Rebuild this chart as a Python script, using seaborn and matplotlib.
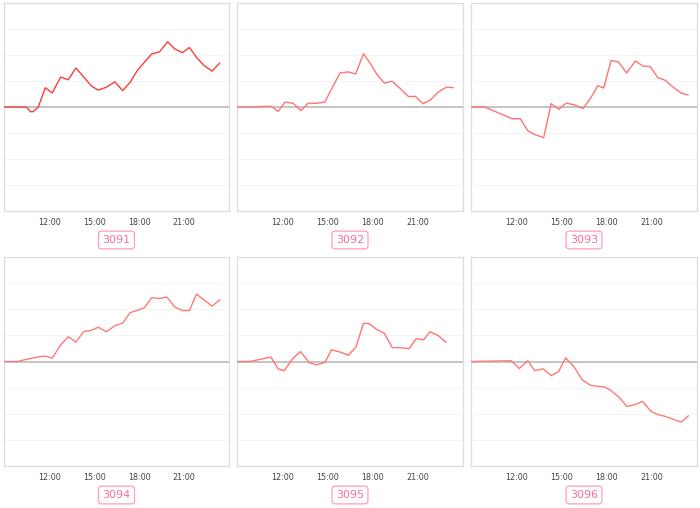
import numpy as np
import pandas as pd
import matplotlib
matplotlib.use("Agg")
import matplotlib.pyplot as plt
import matplotlib.dates as mdates
import seaborn as sns

sns.set_theme(style="white")
plt.rcParams['font.family'] = ['DejaVu Sans']

# Series per station: times (HH:MM) and values
ids = ["3091", "3092", "3093", "3094", "3095", "3096"]

times_3091 = ["09:00", "10:30", "10:45", "10:56", "11:17", "11:45", "12:13", "12:46", "13:17",
              "13:47", "14:19", "14:48", "15:16", "15:49", "16:23", "16:54", "17:24", "17:53",
              "18:21", "18:50", "19:21", "19:54", "20:23", "20:53", "21:21", "21:49", "22:19",
              "22:51", "23:22"]
values_3091 = [0, 0, -0.18, -0.18, 0, 0.74, 0.54, 1.15, 1.05, 1.5, 1.15, 0.82, 0.65, 0.76, 0.97,
               0.63, 0.95, 1.41, 1.72, 2.04, 2.12, 2.51, 2.23, 2.09, 2.29, 1.91, 1.6, 1.38, 1.69]

times_3092 = ["09:00", "09:51", "11:15", "11:44", "12:11", "12:44", "13:14", "13:44", "14:17",
              "14:49", "15:50", "16:23", "16:52", "17:23", "17:49", "18:16", "18:46", "19:17",
              "19:49", "20:22", "20:50", "21:20", "21:48", "22:21", "22:55", "23:21"]
values_3092 = [0, 0, 0.03, -0.17, 0.19, 0.14, -0.14, 0.15, 0.14, 0.19, 1.31, 1.35, 1.27, 2.05,
               1.69, 1.26, 0.92, 0.99, 0.71, 0.40, 0.41, 0.13, 0.26, 0.58, 0.77, 0.74]

times_3093 = ["09:00", "09:54", "11:44", "12:16", "12:46", "13:13", "13:49", "14:19", "14:49",
              "15:19", "15:52", "16:25", "16:54", "17:24", "17:48", "18:17", "18:47", "19:19",
              "19:54", "20:23", "20:53", "21:23", "21:52", "22:22", "22:55", "23:24"]
values_3093 = [0, 0, -0.45, -0.45, -0.91, -1.06, -1.18, 0.13, -0.09, 0.15, 0.08, -0.06, 0.31,
               0.82, 0.73, 1.79, 1.73, 1.31, 1.77, 1.58, 1.55, 1.13, 1.03, 0.78, 0.54, 0.46]

times_3094 = ["09:00", "09:54", "10:28", "11:15", "11:44", "12:13", "12:46", "13:17", "13:47",
              "14:19", "14:48", "15:17", "15:49", "16:23", "16:54", "17:24", "17:53", "18:21",
              "18:50", "19:21", "19:50", "20:23", "20:53", "21:21", "21:49", "22:19", "22:51",
              "23:22"]
values_3094 = [0, 0, 0.08, 0.17, 0.21, 0.13, 0.63, 0.95, 0.74, 1.15, 1.19, 1.31, 1.14, 1.37,
               1.47, 1.87, 1.96, 2.06, 2.44, 2.41, 2.47, 2.08, 1.95, 1.95, 2.58, 2.36, 2.12, 2.36]

times_3095 = ["09:00", "09:51", "11:15", "11:44", "12:08", "12:44", "13:13", "13:47", "14:17",
              "14:50", "15:16", "15:50", "16:23", "16:53", "17:23", "17:46", "18:16", "18:46",
              "19:18", "19:49", "20:25", "20:52", "21:22", "21:48", "22:21", "22:52"]
values_3095 = [0, 0, 0.17, -0.29, -0.35, 0.14, 0.38, -0.04, -0.13, -0.03, 0.45, 0.36, 0.24,
               0.55, 1.46, 1.45, 1.22, 1.08, 0.53, 0.53, 0.49, 0.87, 0.83, 1.14, 0.99, 0.73]

times_3096 = ["09:00", "11:40", "12:12", "12:46", "13:13", "13:47", "14:19", "14:49", "15:16",
              "15:49", "16:23", "16:56", "17:23", "17:49", "18:16", "18:49", "19:20", "19:53",
              "20:23", "20:56", "21:23", "21:53", "22:23", "22:56", "23:25"]
values_3096 = [0, 0.03, -0.27, 0.03, -0.35, -0.28, -0.54, -0.38, 0.14, -0.19, -0.71, -0.91,
               -0.95, -0.97, -1.10, -1.37, -1.72, -1.65, -1.53, -1.91, -2.03, -2.10, -2.21,
               -2.32, -2.08]

series_times = [times_3091, times_3092, times_3093, times_3094, times_3095, times_3096]
series_values = [values_3091, values_3092, values_3093, values_3094, values_3095, values_3096]
line_colors = ["#ff3c3c", "#ff7474", "#ff7474", "#ff7a7a", "#ff7474", "#ff7a7a"]

day = "2024-01-01 "
frames = []
for sid, tt, vv in zip(ids, series_times, series_values):
    frames.append(pd.DataFrame({"id": sid, "time": pd.to_datetime([day + t for t in tt]), "value": vv}))
df = pd.concat(frames, ignore_index=True)

fig = plt.figure(figsize=(7.0, 5.08), dpi=100)
W, H = 700.0, 508.0
col_x = [(4, 229), (237, 463), (471, 697)]
row_y = [(3, 211), (257, 466)]
label_y = [240, 495]

x0 = pd.Timestamp(day + "09:00")
x1 = pd.Timestamp(day + "23:59")

for i, sid in enumerate(ids):
    r, c = divmod(i, 3)
    (xl, xr), (yt, yb) = col_x[c], row_y[r]
    ax = fig.add_axes([xl / W, 1 - yb / H, (xr - xl) / W, (yb - yt) / H])
    sub = df[df["id"] == sid]
    ax.axhline(0, color="#c4c4c4", lw=1.4, zorder=1)
    sns.lineplot(data=sub, x="time", y="value", ax=ax, color=line_colors[i], lw=1.0, zorder=3)
    ax.set_xlim(x0, x1)
    ax.set_ylim(-4, 4)
    ax.set_yticks(range(-4, 5))
    ax.grid(axis="y", color="#f4f4f4", lw=0.8)
    ax.set_axisbelow(True)
    ax.tick_params(axis="y", left=False, labelleft=False)
    ax.xaxis.set_major_locator(mdates.HourLocator(byhour=[12, 15, 18, 21]))
    ax.xaxis.set_major_formatter(mdates.DateFormatter("%H:%M"))
    ax.tick_params(axis="x", labelsize=5.8, colors="#cccccc", labelcolor="#444444",
                   length=3, width=0.6, pad=2)
    ax.set_xlabel("")
    ax.set_ylabel("")
    for s in ax.spines.values():
        s.set_color("#dddddd")
        s.set_linewidth(0.9)
    cx = (xl + xr) / 2.0
    fig.text(cx / W, 1 - label_y[r] / H, sid, ha="center", va="center", fontsize=8,
             color="#f2709b",
             bbox=dict(boxstyle="round,pad=0.35,rounding_size=0.3", fc="white",
                       ec="#ff9dbb", lw=0.9))

fig.savefig("out.png", dpi=100)
